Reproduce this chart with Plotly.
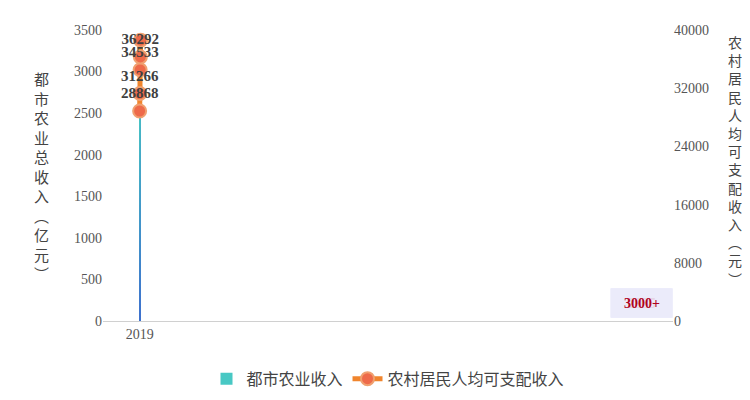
import plotly.graph_objects as go

years = ["2019", "2020", "2021", "2022", "2023"]
agri = [2384, 2613, 2799, 2935, 3040]
agri_labels = ["2384", "2613", "2799", "2935", "3000+"]
income = [28868, 31266, 34533, 36292, 38607]

fig = go.Figure()
N = 30
top = (72, 200, 196)
bot = (62, 112, 206)
for k in range(N):
    f = 1 - k / N
    c = tuple(int(bot[i] + (top[i] - bot[i]) * f) for i in range(3))
    fig.add_trace(go.Bar(x=years, y=[v * f for v in agri], width=0.34,
                         marker=dict(color="rgb(%d,%d,%d)" % c, line=dict(width=0)),
                         showlegend=(k == 0), name="都市农业收入", hoverinfo="skip"))
fig.add_trace(go.Scatter(x=years, y=income, yaxis="y2", mode="lines+markers+text",
                         name="农村居民人均可支配收入",
                         line=dict(color="#F0852D", width=5),
                         marker=dict(color="#EE6A4A", size=13, line=dict(color="#F0A070", width=2)),
                         text=["<b>%d</b>" % v for v in income], textposition="top center",
                         textfont=dict(family="Liberation Serif", size=15, color="#404040")))
for x, t in zip(years, agri_labels):
    fig.add_annotation(x=x, y=0, yref="y", text="<b>%s</b>" % t, showarrow=False,
                       yanchor="bottom", yshift=3, bgcolor="rgba(235,235,250,0.9)",
                       width=58, height=26,
                       font=dict(family="Liberation Serif", size=14, color="#B00020"))

def vert(s):
    return "<br>".join(s)

fig.update_layout(
    width=750, height=400, margin=dict(l=95, r=85, t=22, b=70),
    plot_bgcolor="white", paper_bgcolor="white", barmode="overlay", bargap=0.6,
    font=dict(family="Noto Sans CJK SC", color="#404040"),
    xaxis=dict(type="category", showline=True, linecolor="#d0d0d0",
               tickfont=dict(family="Liberation Serif", size=14, color="#555")),
    yaxis=dict(range=[0, 3500], dtick=500, showgrid=False, zeroline=False,
               tickfont=dict(family="Liberation Serif", size=14, color="#555")),
    yaxis2=dict(range=[0, 40000], dtick=8000, overlaying="y", side="right",
                showgrid=False, zeroline=False, tickformat="d",
                tickfont=dict(family="Liberation Serif", size=14, color="#555")),
    legend=dict(orientation="h", x=0.5, xanchor="center", y=-0.14, yanchor="top",
                font=dict(size=16, color="#444")),
)
fig.add_annotation(xref="paper", yref="paper", x=-0.125, y=0.5, showarrow=False,
                   text=vert("都市农业总收入︵亿元︶"), font=dict(size=15, color="#444"))
fig.add_annotation(xref="paper", yref="paper", x=1.125, y=0.55, showarrow=False,
                   text=vert("农村居民人均可支配收入︵元︶"), font=dict(size=14, color="#444"))
fig.write_html("out.html")
